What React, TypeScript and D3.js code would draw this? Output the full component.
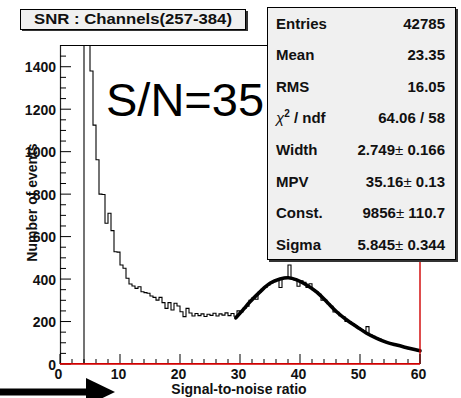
import React from 'react';
import * as d3 from 'd3';

const W = 461;
const H = 398;

const xTicks = [0, 10, 20, 30, 40, 50, 60];
const yTicks = [0, 200, 400, 600, 800, 1000, 1200, 1400];

const binStart = 4.0;
const binWidth = 0.5;
// bins 4.0 .. 29.5
const countsLow = [2600, 2200, 1380, 1125, 962, 800, 798, 663, 710, 628, 529, 527, 466, 451, 404, 377, 367, 356, 364, 340, 336, 333, 320, 314, 301, 314, 289, 262, 289, 254, 286, 273, 246, 223, 262, 240, 226, 238, 228, 236, 224, 234, 229, 239, 226, 236, 230, 241, 228, 238, 225, 250];
// bins 30.0 .. 59.5
const countsFit = [245, 262, 272, 300, 312, 305, 338, 352, 360, 372, 383, 388, 396, 360, 404, 408, 466, 402, 396, 366, 392, 385, 360, 378, 350, 340, 328, 300, 300, 284, 272, 245, 244, 228, 222, 200, 200, 190, 180, 172, 162, 155, 176, 138, 130, 122, 118, 110, 104, 100, 95, 92, 88, 84, 80, 77, 72, 70, 66, 63];

const fitX = [29.3, 30.5, 31.67, 33.33, 35, 36.67, 38.05, 39.45, 41.1, 42.8, 44.45, 46.1, 47.8, 49.45, 51.1, 52.8, 54.45, 56.1, 57.8, 60];
const fitY = [217, 255, 293, 340, 380, 400, 406, 396, 372, 338, 293, 246, 207, 176, 145, 121, 102, 89, 77, 62];

const statLabels = ['Entries', 'Mean', 'RMS', 'chi', 'Width', 'MPV', 'Const.', 'Sigma'];
const statValues = ['42785', '23.35', '16.05', '64.06 / 58', '2.749', '35.16', '9856', '5.845'];
const statErrors = ['', '', '', '', '0.166', '0.13', '110.7', '0.344'];

const titleText = 'SNR : Channels(257-384)';
const xTitle = 'Signal-to-noise ratio';
const yTitle = 'Number of events';
const annotation = 'S/N=35';

const FONT = "'Liberation Sans', Arial, Helvetica, sans-serif";

export default function App() {
  const x = d3.scaleLinear().domain([0, 60]).range([60, 420]);
  const y = d3.scaleLinear().domain([0, 1500]).range([364, 45.5]);

  const counts = countsLow.concat(countsFit);
  let hist = `M${x(binStart)},${y(0)}`;
  counts.forEach((c, i) => {
    hist += `V${y(c)}H${x(binStart + (i + 1) * binWidth)}`;
  });

  const fitLine = d3
    .line<number>()
    .x((_, i) => x(fitX[i]))
    .y((d) => y(d))
    .curve(d3.curveCatmullRom.alpha(0.5));

  const yMinor = d3.range(0, 1501, 50);
  const xMinor = d3.range(0, 61, 2);

  const statTop = 7;
  const rowH = 31.6;

  return (
    <svg
      width={W}
      height={H}
      style={{ position: 'absolute', left: 0, top: 0, background: '#fff' }}
      fontFamily={FONT}
    >
      <defs>
        <clipPath id="frameClip">
          <rect x={60} y={45.5} width={360} height={318.5} />
        </clipPath>
      </defs>

      {/* histogram */}
      <path d={hist} fill="none" stroke="#000" strokeWidth={1.1} clipPath="url(#frameClip)" />

      {/* fit */}
      <path d={fitLine(fitY) || ''} fill="none" stroke="#000" strokeWidth={3.6} strokeLinecap="round" strokeLinejoin="round" />

      {/* frame */}
      <line x1={60} x2={420} y1={45.5} y2={45.5} stroke="#000" strokeWidth={1} />
      <line x1={60.5} x2={60.5} y1={45} y2={364} stroke="#222" strokeWidth={1.2} />
      <line x1={420} x2={420} y1={45} y2={364} stroke="#d00000" strokeWidth={1.4} />

      {/* y ticks */}
      {yMinor.map((v) => (
        <line key={'ym' + v} x1={60} x2={yTicks.includes(v) ? 71 : 66} y1={y(v)} y2={y(v)} stroke="#000" strokeWidth={1} />
      ))}
      {yTicks.map((v) => (
        <text key={'yl' + v} x={56} y={y(v) + 5.5} textAnchor="end" fontSize={14} fontWeight="bold" fill="#111">
          {v}
        </text>
      ))}

      {/* x ticks */}
      {xMinor.map((v) => (
        <line key={'xm' + v} x1={x(v)} x2={x(v)} y1={364} y2={xTicks.includes(v) ? 354 : 359} stroke="#000" strokeWidth={1} />
      ))}
      <line x1={60} x2={420} y1={363.8} y2={363.8} stroke="#d00000" strokeWidth={1.8} />
      {xTicks.map((v) => (
        <text key={'xl' + v} x={x(v) - 1.5} y={379} textAnchor="middle" fontSize={14} fontWeight="bold" fill="#111">
          {v}
        </text>
      ))}

      {/* axis titles */}
      <text x={239} y={394} textAnchor="middle" fontSize={14} fontWeight="bold" fill="#111">
        {xTitle}
      </text>
      <text
        transform={`translate(36.5,202.5) rotate(-90)`}
        textAnchor="middle"
        fontSize={14}
        fontWeight="bold"
        fill="#111"
      >
        {yTitle}
      </text>

      {/* annotation */}
      <text x={106} y={116} fontSize={47} fill="#000">
        {annotation}
      </text>

      {/* title box */}
      <rect x={22} y={11} width={226} height={20} fill="#333" />
      <rect x={20.5} y={9.5} width={225} height={20} fill="#f0f0f0" stroke="#000" strokeWidth={1} />
      <text x={133} y={24} textAnchor="middle" fontSize={15} fontWeight="bold" fill="#111" textLength={198} lengthAdjust="spacingAndGlyphs">
        {titleText}
      </text>

      {/* stats box */}
      <rect x={269} y={9} width={189} height={253} fill="#333" />
      <rect x={267.5} y={7.5} width={188} height={252} fill="#f0f0f0" stroke="#000" strokeWidth={1} />
      {statLabels.map((lab, i) => {
        const by = statTop + 21.5 + i * rowH;
        return (
          <g key={'s' + i} fontSize={15} fontWeight="bold" fill="#111">
            {lab === 'chi' ? (
              <text x={276} y={by}>
                <tspan fontWeight="normal" fontStyle="italic">χ</tspan>
                <tspan dy={-6} fontSize={10}>2</tspan>
                <tspan dy={6}> / ndf</tspan>
              </text>
            ) : (
              <text x={276} y={by}>{lab}</text>
            )}
            <text x={445} y={by} textAnchor="end">
              {statErrors[i] ? (
                <>
                  <tspan>{statValues[i]}</tspan>
                  <tspan fontWeight="normal">±</tspan>
                  <tspan> {statErrors[i]}</tspan>
                </>
              ) : (
                statValues[i]
              )}
            </text>
          </g>
        );
      })}

      {/* arrow */}
      <rect x={0} y={388.5} width={88} height={7} fill="#000" />
      <path d="M86,378 L115,392 L86,406 Z" fill="#000" />
    </svg>
  );
}
